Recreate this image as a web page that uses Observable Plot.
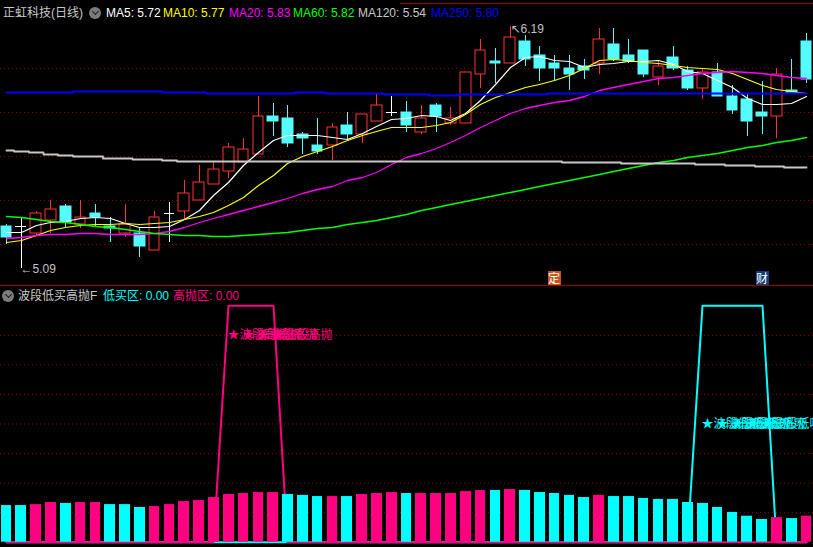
<!DOCTYPE html>
<html><head><meta charset="utf-8">
<script src="https://cdn.jsdelivr.net/npm/d3@7"></script>
<script src="https://cdn.jsdelivr.net/npm/@observablehq/plot@0.6"></script>
<style>
html,body{margin:0;padding:0;background:#000;}
#wrap{position:relative;width:813px;height:547px;background:#000;overflow:hidden;font-family:"Liberation Sans","Noto Sans CJK SC",sans-serif;font-size:12px;}
.lbl{position:absolute;white-space:pre;line-height:14px;}
.icon{position:absolute;width:12px;height:12px;border-radius:50%;background:#7c7c7c;}
.icon::after{content:"";position:absolute;left:3.5px;top:2px;width:4px;height:4px;border-right:1.5px solid #1a1a1a;border-bottom:1.5px solid #1a1a1a;transform:rotate(45deg);}
.mk{position:absolute;width:13px;height:14px;color:#fff;font-size:12px;line-height:14px;text-align:center;font-family:"Noto Sans CJK SC",sans-serif;}
.hl{position:absolute;height:1px;background:#a00000;}
</style></head><body><div id="wrap"></div>
<script>
// ---------- data ----------
const openP  = [5.28,5.28,5.25,5.31,5.37,5.29,5.34,5.28,5.25,5.25,5.17,5.34,5.35,5.40,5.47,5.53,5.57,5.61,5.78,5.77,5.70,5.65,5.65,5.74,5.70,5.76,5.80,5.80,5.71,5.83,5.75,5.75,5.97,6.03,6.02,6.12,6.06,6.02,6.00,6.01,6.02,6.11,6.06,6.08,5.96,6.05,5.99,5.91,5.98,5.87,5.86,5.80,5.78,5.90,6.12];
const highP  = [5.29,5.32,5.35,5.40,5.38,5.40,5.38,5.32,5.38,5.27,5.35,5.39,5.49,5.56,5.57,5.66,5.68,5.87,5.84,5.83,5.71,5.77,5.75,5.80,5.79,5.88,5.87,5.85,5.83,5.84,5.82,5.98,6.13,6.09,6.19,6.15,6.10,6.06,6.06,6.04,6.18,6.18,6.13,6.08,6.03,6.10,6.01,6.00,6.02,5.92,5.88,5.94,6.00,6.04,6.16];
const lowP   = [5.20,5.09,5.24,5.25,5.27,5.27,5.28,5.21,5.23,5.14,5.17,5.21,5.31,5.40,5.47,5.50,5.57,5.61,5.69,5.64,5.61,5.61,5.58,5.67,5.66,5.76,5.78,5.71,5.70,5.71,5.74,5.75,5.91,5.93,6.02,6.01,5.94,5.94,5.90,5.95,5.97,6.03,6.02,5.96,5.92,5.99,5.90,5.86,5.87,5.79,5.69,5.70,5.68,5.89,5.93];
const closeP = [5.23,5.28,5.34,5.36,5.30,5.32,5.32,5.27,5.29,5.19,5.32,5.34,5.43,5.48,5.54,5.64,5.63,5.78,5.76,5.66,5.68,5.62,5.73,5.70,5.79,5.83,5.80,5.74,5.77,5.78,5.77,5.98,6.08,6.02,6.14,6.04,6.00,6.00,5.97,5.99,6.13,6.04,6.03,5.97,6.01,6.00,5.91,5.98,5.87,5.81,5.76,5.78,5.97,5.89,5.95];

const ma5   = [5.252,5.252,5.285,5.301,5.304,5.316,5.320,5.319,5.296,5.278,5.276,5.281,5.311,5.354,5.422,5.482,5.558,5.619,5.672,5.695,5.695,5.695,5.687,5.675,5.702,5.735,5.767,5.770,5.785,5.779,5.763,5.793,5.854,5.925,6.002,6.051,6.054,6.035,6.031,6.004,6.016,6.023,6.031,6.031,6.035,6.016,5.985,5.975,5.945,5.914,5.864,5.835,5.835,5.841,5.873];
const ma10  = [5.210,5.217,5.240,5.263,5.278,5.285,5.290,5.290,5.293,5.288,5.293,5.301,5.311,5.326,5.346,5.376,5.414,5.467,5.513,5.566,5.601,5.622,5.646,5.672,5.695,5.713,5.732,5.732,5.729,5.740,5.755,5.788,5.834,5.869,5.891,5.914,5.925,5.945,5.967,5.998,6.035,6.040,6.035,6.028,6.020,6.013,6.002,6.001,5.993,5.975,5.948,5.922,5.904,5.895,5.887];
const ma20  = [5.228,5.231,5.240,5.243,5.245,5.248,5.248,5.243,5.245,5.245,5.248,5.260,5.278,5.301,5.319,5.334,5.354,5.373,5.391,5.410,5.429,5.449,5.464,5.490,5.505,5.528,5.561,5.596,5.611,5.637,5.664,5.695,5.732,5.763,5.793,5.816,5.831,5.843,5.854,5.873,5.899,5.914,5.926,5.940,5.952,5.960,5.967,5.975,5.982,5.985,5.982,5.975,5.967,5.960,5.955];
const ma60  = [5.328,5.320,5.313,5.304,5.298,5.290,5.282,5.275,5.267,5.258,5.248,5.243,5.240,5.238,5.237,5.237,5.238,5.243,5.249,5.255,5.263,5.270,5.278,5.288,5.298,5.308,5.320,5.334,5.352,5.366,5.381,5.396,5.410,5.423,5.437,5.451,5.464,5.478,5.491,5.505,5.517,5.531,5.546,5.560,5.573,5.582,5.593,5.604,5.614,5.626,5.638,5.651,5.661,5.673,5.684];
const ma120 = [5.625,5.622,5.616,5.608,5.602,5.598,5.598,5.592,5.588,5.584,5.584,5.581,5.576,5.576,5.576,5.576,5.576,5.576,5.576,5.576,5.576,5.576,5.576,5.576,5.576,5.578,5.578,5.578,5.578,5.578,5.578,5.578,5.578,5.578,5.578,5.578,5.578,5.578,5.573,5.573,5.573,5.573,5.569,5.569,5.569,5.566,5.566,5.561,5.561,5.557,5.557,5.552,5.552,5.548,5.548];
const ma250 = [5.890,5.890,5.890,5.890,5.890,5.893,5.893,5.893,5.893,5.893,5.893,5.888,5.888,5.888,5.884,5.884,5.884,5.884,5.884,5.884,5.888,5.888,5.884,5.884,5.884,5.884,5.879,5.880,5.881,5.875,5.875,5.881,5.881,5.881,5.881,5.881,5.881,5.884,5.884,5.884,5.884,5.884,5.884,5.884,5.884,5.884,5.884,5.884,5.884,5.884,5.884,5.884,5.884,5.884,5.884];

const maNames  = ["MA5","MA10","MA20","MA60","MA120","MA250"];
const maHeader = [5.72, 5.77, 5.83, 5.82, 5.54, 5.80];
const maColors = ["#ffffff","#ffff00","#ff00ff","#00ff00","#c8c8c8","#0000ff"];
const mainGrid = [6.0, 5.8, 5.6, 5.4, 5.2];

const barVals = [15.5,15.5,15.9,16.8,16.4,16.8,16.8,15.9,15.9,14.7,15.1,15.9,17.2,17.6,18.9,20.2,20.6,21.0,21.0,20.2,19.8,19.3,19.3,19.3,20.2,20.6,21.0,20.6,20.6,20.6,20.6,21.4,21.9,21.9,22.3,21.9,21.0,20.6,19.8,18.9,19.8,19.3,19.3,18.5,18.1,18.1,16.8,16.4,14.7,12.6,11.0,9.6,10.4,10.0,11.0];
// 1 = 高抛 colour (pink), 0 = 低买 colour (cyan)
const barSide = [0,0,1,1,0,1,1,0,0,0,1,1,1,1,1,1,1,1,1,0,0,0,1,0,1,1,1,0,1,1,1,1,1,0,1,0,0,0,0,0,1,0,0,0,0,0,0,0,0,0,0,0,1,0,1];
const buyLine  = [0,0,0,0,0,0,0,0,0,0,0,0,0,0,0,0,0,0,0,0,0,0,0,0,0,0,0,0,0,0,0,0,0,0,0,0,0,0,0,0,0,0,0,0,0,0,0,100,100,100,100,100,0,0,0];
const sellLine = [0,0,0,0,0,0,0,0,0,0,0,0,0,0,0,100,100,100,100,0,0,0,0,0,0,0,0,0,0,0,0,0,0,0,0,0,0,0,0,0,0,0,0,0,0,0,0,0,0,0,0,0,0,0,0];
const buyText = "★波段低吸", sellText = "★波段高抛";
const buyTextLevel = 50, sellTextLevel = 87.5;
const subGrid = [12.5, 25, 37.5, 50, 62.5, 75, 87.5];

const markerIdx = [37, 51];
const markerText = ["定", "财"];
const markerBg = ["#c4531c", "#123f72"];

// ---------- build ----------
const RED = "#ff3232", CYAN = "#54fcfc", WHITE = "#ffffff";
const PINK = "#ff0080", AQUA = "#00ffff";
const idx = d3.range(openP.length);
const rows = idx.map(i => ({i, open: openP[i], high: highP[i], low: lowP[i], close: closeP[i],
  col: closeP[i] > openP[i] ? RED : closeP[i] < openP[i] ? CYAN : WHITE}));
const bodies = rows.filter(d => d.open !== d.close);
const dojis = rows.filter(d => d.open === d.close);
const maSeries = [ma5, ma10, ma20, ma60, ma120, ma250];
const maWidth = [1.2, 1.2, 1.3, 1.5, 1.8, 2];
const maCurve = ["linear","linear","linear","linear","step","step"];
const hw = 0.36;
const maxI = d3.maxIndex(highP), minI = d3.minIndex(lowP);

const xOpt = {type: "linear", domain: [0, openP.length - 1], range: [6, 806], round: true, axis: null};

const main = Plot.plot({
  width: 813, height: 285, marginTop: 0, marginRight: 0, marginBottom: 0, marginLeft: 0,
  style: {background: "transparent", position: "absolute", top: "0px", left: "0px", overflow: "visible"},
  x: xOpt,
  y: {type: "linear", domain: [5.09, 6.19], range: [268, 26], round: true, axis: null},
  marks: [
    Plot.ruleY(mainGrid, {stroke: "#8c0000", strokeDasharray: "1,3"}),
    Plot.ruleX(rows, {x: "i", y1: "low", y2: "high", stroke: d => d.col, strokeWidth: 1}),
    Plot.rect(bodies, {x1: d => d.i - hw, x2: d => d.i + hw, y1: "open", y2: "close",
      fill: d => d.col === RED ? "#000" : CYAN, stroke: d => d.col, strokeWidth: 1}),
    Plot.ruleY(dojis, {x1: d => d.i - hw, x2: d => d.i + hw, y: "close", stroke: WHITE}),
    ...maSeries.map((s, k) => Plot.line(idx, {x: d => d, y: d => s[d], stroke: maColors[k], strokeWidth: maWidth[k], curve: maCurve[k]})),
    Plot.text([maxI], {x: d => d, y: d => highP[d], text: d => "↖" + highP[d].toFixed(2), textAnchor: "start", dy: 3, dx: 0,
      fill: "#c0c0c0", fontSize: 12, fontFamily: "Liberation Sans, DejaVu Sans"}),
    Plot.text([minI], {x: d => d, y: d => lowP[d], text: d => "←" + lowP[d].toFixed(2), textAnchor: "start", dy: 1, dx: -1,
      fill: "#c0c0c0", fontSize: 12, fontFamily: "Liberation Sans, DejaVu Sans"})
  ]
});

const sub = Plot.plot({
  width: 813, height: 262, marginTop: 0, marginRight: 0, marginBottom: 0, marginLeft: 0,
  style: {background: "transparent", position: "absolute", top: "285px", left: "0px", overflow: "visible"},
  x: xOpt,
  y: {type: "linear", domain: [0, 100], range: [256.7, 20.3], axis: null},
  marks: [
    Plot.ruleY(subGrid, {stroke: "#8c0000", strokeDasharray: "1,3"}),
    Plot.line(idx, {x: d => d, y: d => buyLine[d], stroke: AQUA, strokeWidth: 2}),
    Plot.line(idx, {x: d => d, y: d => sellLine[d], stroke: PINK, strokeWidth: 2}),
    Plot.text(idx.filter(i => sellLine[i] > 0), {x: d => d, y: () => sellTextLevel, text: () => sellText, textAnchor: "start", dx: -1,
      fill: PINK, fontSize: 12, fontFamily: "Noto Sans CJK SC"}),
    Plot.text(idx.filter(i => buyLine[i] > 0), {x: d => d, y: () => buyTextLevel, text: () => buyText, textAnchor: "start", dx: -1,
      fill: AQUA, fontSize: 12, fontFamily: "Noto Sans CJK SC"}),
    Plot.rect(idx, {x1: d => d - hw, x2: d => d + hw, y1: 0, y2: d => barVals[d], fill: d => barSide[d] ? PINK : AQUA})
  ]
});

const wrap = document.getElementById("wrap");
wrap.appendChild(main);
wrap.appendChild(sub);

function addDiv(cls, css, text) {
  const el = document.createElement("div");
  el.className = cls;
  Object.assign(el.style, css);
  if (text != null) el.textContent = text;
  wrap.appendChild(el);
  return el;
}
// frame lines
addDiv("hl", {left: "400px", top: "3px", width: "413px"});
addDiv("hl", {left: "0px", top: "285px", width: "813px"});
// main header
addDiv("lbl", {left: "3px", top: "6px", color: "#c8c8c8"}, "正虹科技(日线)");
addDiv("icon", {left: "89px", top: "7px"});
const maLeft = [106, 163, 229, 293, 358, 431];
maNames.forEach((n, k) => addDiv("lbl", {left: maLeft[k] + "px", top: "6px", color: maColors[k]}, `${n}: ${maHeader[k].toFixed(2)}`));
// sub header
addDiv("icon", {left: "2px", top: "290px"});
addDiv("lbl", {left: "18px", top: "289px", color: "#c8c8c8"}, "波段低买高抛F");
addDiv("lbl", {left: "103px", top: "289px", color: AQUA}, "低买区: 0.00");
addDiv("lbl", {left: "173px", top: "289px", color: PINK}, "高抛区: 0.00");
// event markers
const sx = main.scale("x");
markerIdx.forEach((m, k) => addDiv("mk", {left: (sx.apply(m) - 6.5) + "px", top: "271px", background: markerBg[k]}, markerText[k]));
</script>
</body></html>
